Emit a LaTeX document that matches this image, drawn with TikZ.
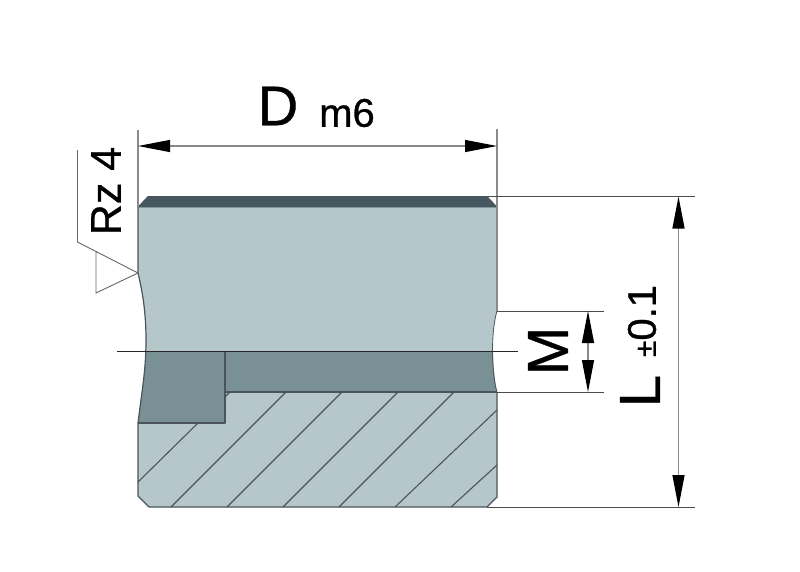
\documentclass[tikz,border=0pt]{standalone}
\usepackage{fontspec}
\setmainfont{Liberation Sans}
\newfontfamily\labfont[FakeBold=0.7]{Liberation Sans}
\usetikzlibrary{arrows.meta}
\definecolor{lightbody}{HTML}{B5C7CA}
\definecolor{darkbody}{HTML}{799095}
\definecolor{topface}{HTML}{46575F}
\definecolor{edgeline}{HTML}{4A555B}
\definecolor{dimgray}{HTML}{8A8A8A}
\tikzset{
  outline/.style={draw=edgeline,line width=1.2pt,line join=round},
  hatchline/.style={draw=edgeline,line width=1.1pt},
  extline/.style={draw=black!70,line width=0.9pt},
  extgray/.style={draw=dimgray,line width=1.4pt},
  dimline/.style={draw=dimgray,line width=1.2pt,{Triangle[black,length=32pt,width=12pt]}-{Triangle[black,length=32pt,width=12pt]}},
  lab/.style={inner sep=0pt,text=black}
}
\begin{document}
\begin{tikzpicture}[x=1pt,y=-1pt]
\useasboundingbox (0,0) rectangle (800,571);
\fill[white] (0,0) rectangle (800,571);
% body
\fill[lightbody] (138,207) -- (497,207) -- (497,311) .. controls (491,330) and (491,372) .. (497,392)
  -- (497,497) -- (487,507) -- (149,507) -- (138,496) -- (138,423)
  .. controls (142,390) and (146,370) .. (146,340) .. controls (146,310) and (142,290) .. (138,273) -- cycle;
% dark band
\fill[darkbody] (146,351) -- (493,351) .. controls (493.2,365) and (494.5,380) .. (497,392) -- (225,392) -- (225,423) -- (138,423)
  .. controls (142,390) and (146,370) .. (146,351) -- cycle;
% hatching
\draw[hatchline] (138,482) -- (198,423);
\draw[hatchline] (171,507) -- (286,392);
\draw[hatchline] (227,507) -- (342,392);
\draw[hatchline] (283,507) -- (398,392);
\draw[hatchline] (339,507) -- (454,392);
\draw[hatchline] (395,507) -- (497,410);
\draw[hatchline] (451,507) -- (497,465);
\draw[hatchline] (225,397) -- (230,392);
% top face
\filldraw[fill=topface,draw=topface,line width=0.8pt,line join=round] (138,207) -- (148,196.5) -- (487,196.5) -- (497,207) -- cycle;
% outlines
\draw[outline] (138,207) -- (138,273) .. controls (142,290) and (146,310) .. (146,340) .. controls (146,370) and (142,390) .. (138,423) -- (138,496) -- (149,507) -- (487,507) -- (497,497) -- (497,392);
\draw[outline,draw=dimgray] (497,207) -- (497,311);
\draw[outline,line width=0.8pt] (497,311) .. controls (491,330) and (491,372) .. (497,392);
\draw[outline] (138,423) -- (225,423) -- (225,351);
\draw[outline] (225,392) -- (497,392);
% extension lines
\draw[extgray] (138,130) -- (138,207);
\draw[extgray] (497,129) -- (497,207);
\draw[extline] (487,196.5) -- (695,196.5);
\draw[extline] (487,507) -- (695,507);
\draw[extline] (497,311) -- (604,311);
\draw[extline] (497,392) -- (604,392);
\draw[line width=1pt,black!85] (117,351) -- (518,351);
% roughness symbol
\coordinate (rzA) at (77.5,150);
\coordinate (rzB) at (77.5,242);
\coordinate (rzC) at (138,273);
\coordinate (rzD) at (96,293);
\coordinate (rzE) at (96,252);
\draw[extline,draw=black!60] (rzA) -- (rzB) -- (rzC) -- (rzD) -- (rzE);
% dimensions
\coordinate (dL) at (138,146);
\coordinate (dR) at (497,146);
\draw[dimline] (dL) -- (dR);
\coordinate (lT) at (678.5,196.5);
\coordinate (lB) at (678.5,507);
\draw[dimline] (lT) -- (lB);
\coordinate (mT) at (588,311);
\coordinate (mB) at (588,392);
\draw[dimline] (mT) -- (mB);
% labels
\node[lab,font=\labfont\fontsize{56}{56}\selectfont] (D) at (278,106) {D};
\node[lab,font=\labfont\fontsize{40}{40}\selectfont] (m6) at (347,113) {m6};
\node[lab,rotate=90,font=\labfont\fontsize{43}{43}\selectfont] (rz) at (106,191) {Rz 4};
\node[lab,rotate=90,font=\labfont\fontsize{58}{58}\selectfont] (M) at (548,351) {M};
\node[lab,rotate=90,font=\labfont\fontsize{58}{58}\selectfont] (L) at (640,391) {L};
\node[lab,rotate=90,font=\labfont\fontsize{40}{40}\selectfont] (tol) at (642,321) {{\fontsize{30}{30}\selectfont ±}0.1};
\end{tikzpicture}
\end{document}
